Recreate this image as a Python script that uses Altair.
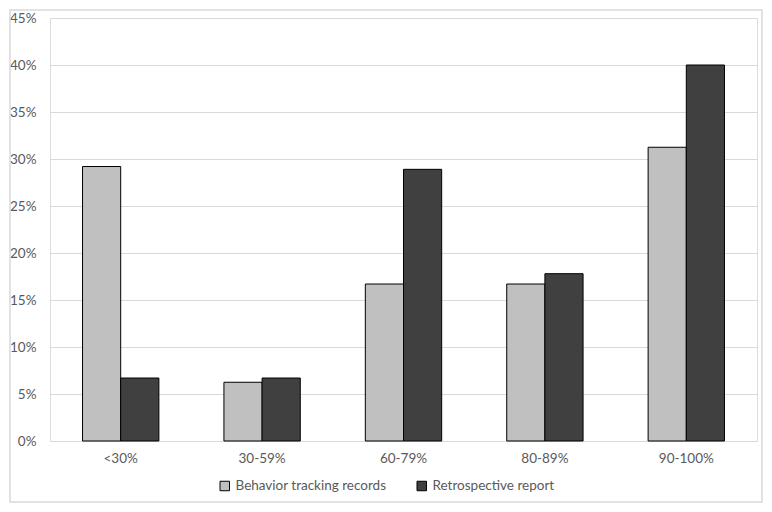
import altair as alt
import pandas as pd

categories = ["<30%", "30-59%", "60-79%", "80-89%", "90-100%"]
series_names = ["Behavior tracking records", "Retrospective report"]
behavior = [29.2, 6.25, 16.7, 16.7, 31.25]
retro = [6.7, 6.7, 28.9, 17.8, 40.0]

rows = []
for c, b, r in zip(categories, behavior, retro):
    rows.append({"cat": c, "series": series_names[0], "value": b / 100})
    rows.append({"cat": c, "series": series_names[1], "value": r / 100})
df = pd.DataFrame(rows)

FONT = "Lato"
W, H = 707, 423

bars = alt.Chart(df).mark_bar(stroke="#000000", strokeWidth=1).encode(
    x=alt.X("cat:N", sort=categories, title=None,
            scale=alt.Scale(paddingInner=0.46, paddingOuter=0.23),
            axis=alt.Axis(labelAngle=0, ticks=False, domain=True, domainColor="#d9d9d9",
                          labelPadding=10, labelFontSize=13.5, labelColor="#595959", labelFont=FONT)),
    xOffset=alt.XOffset("series:N", sort=series_names),
    y=alt.Y("value:Q", title=None,
            scale=alt.Scale(domain=[0, 0.45]),
            axis=alt.Axis(format=".0%", values=[i * 0.05 for i in range(10)], ticks=False,
                          domain=False, gridColor="#d9d9d9", labelPadding=14,
                          labelFontSize=13.5, labelColor="#595959", labelFont=FONT)),
    color=alt.Color("series:N", sort=series_names,
                    scale=alt.Scale(domain=series_names, range=["#c0c0c0", "#404040"]),
                    legend=alt.Legend(title=None, orient="none", direction="horizontal",
                                      legendX=168, legendY=461, symbolType="square",
                                      symbolSize=90, symbolStrokeColor="#000000",
                                      symbolStrokeWidth=1, labelFontSize=13.5,
                                      labelColor="#595959", labelFont=FONT,
                                      columnPadding=28, symbolOpacity=1)),
)

border = alt.Chart(pd.DataFrame({"a": [0]})).mark_rect(
    fill=None, stroke="#d9d9d9", strokeWidth=1.5, clip=False
).encode(
    x=alt.value(-40), x2=alt.value(712), y=alt.value(-8), y2=alt.value(484)
)

chart = alt.layer(border, bars).properties(
    width=W, height=H,
    padding={"left": 42, "top": 10, "right": 7, "bottom": 63},
    autosize=alt.AutoSizeParams(type="none"),
).configure_view(stroke=None).configure(background="white")

chart.save("out.html", embed_options={"renderer": "svg", "actions": False})
